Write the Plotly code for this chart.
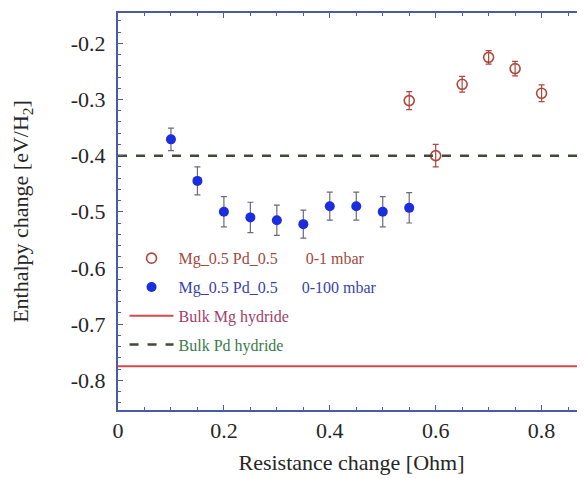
import plotly.graph_objects as go

# Data
x_low = [0.55, 0.60, 0.65, 0.70, 0.75, 0.80]
y_low = [-0.302, -0.400, -0.273, -0.225, -0.245, -0.289]
e_low = [0.016, 0.020, 0.014, 0.012, 0.013, 0.015]

x_high = [0.10, 0.15, 0.20, 0.25, 0.30, 0.35, 0.40, 0.45, 0.50, 0.55]
y_high = [-0.371, -0.445, -0.500, -0.510, -0.515, -0.522, -0.490, -0.490, -0.500, -0.493]
e_high = [0.020, 0.025, 0.027, 0.027, 0.027, 0.025, 0.025, 0.025, 0.027, 0.027]

bulk_mg = -0.775
bulk_pd = -0.400
x_span = [0.0, 0.882]

x_tickvals = [0, 0.2, 0.4, 0.6, 0.8]
x_ticktext = ["0", "0.2", "0.4", "0.6", "0.8"]
y_tickvals = [-0.8, -0.7, -0.6, -0.5, -0.4, -0.3, -0.2]
y_ticktext = ["-0.8", "-0.7", "-0.6", "-0.5", "-0.4", "-0.3", "-0.2"]

AX = "#4a5aa8"
FONT = "Liberation Serif"
NB = "&nbsp;"

fig = go.Figure()
fig.add_trace(go.Scatter(
    x=x_low, y=y_low, mode="markers",
    name="<span style='color:#a04a40'>Mg_0.5 Pd_0.5" + NB * 7 + "0-1 mbar</span>",
    legendgroup="a",
    marker=dict(symbol="circle-open", size=10, color="#b0473d", line=dict(width=1.6)),
    error_y=dict(type="data", array=e_low, color="#b0473d", thickness=1.2, width=3),
))
fig.add_trace(go.Scatter(
    x=x_high, y=y_high, mode="markers",
    name="<span style='color:#3a3fb0'>Mg_0.5 Pd_0.5" + NB * 6 + "0-100 mbar</span>",
    legendgroup="b",
    marker=dict(symbol="circle", size=10, color="#1a2ee0"),
    error_y=dict(type="data", array=e_high, color="#6a6a80", thickness=1.2, width=3),
))
fig.add_trace(go.Scatter(
    x=x_span, y=[bulk_mg, bulk_mg], mode="lines",
    name="<span style='color:#a0406a'>Bulk Mg hydride</span>",
    legendgroup="c",
    line=dict(color="#d84848", width=2),
))
fig.add_trace(go.Scatter(
    x=x_span, y=[bulk_pd, bulk_pd], mode="lines",
    name="<span style='color:#3a7a4a'>Bulk Pd hydride</span>",
    legendgroup="d",
    line=dict(color="#404a38", width=2.5, dash="dash"),
))

# page has an 8px body margin, so the figure is 8px smaller and shifted
fig.update_layout(
    width=577, height=470,
    margin=dict(l=110, r=0, t=5, b=68),
    paper_bgcolor="white", plot_bgcolor="white",
    font=dict(family=FONT, color="#333333"),
    showlegend=True,
    legend=dict(
        x=0.014, y=0.425, xanchor="left", yanchor="top",
        bgcolor="rgba(255,255,255,0)",
        font=dict(family=FONT, size=16),
        traceorder="grouped", tracegroupgap=5,
        itemwidth=44,
    ),
)
fig.update_xaxes(
    range=x_span, tickmode="array", tickvals=x_tickvals, ticktext=x_ticktext,
    automargin=False,
    showline=True, linecolor=AX, linewidth=2, mirror="ticks",
    ticks="inside", ticklen=5, tickcolor=AX,
    minor=dict(dtick=0.05, tick0=0, ticks="inside", ticklen=3, tickcolor=AX),
    showgrid=False, zeroline=False,
    tickfont=dict(family=FONT, size=22, color="#262626"),
    title=dict(text="Resistance change [Ohm]", font=dict(family=FONT, size=22, color="#262626"), standoff=12),
)
fig.update_yaxes(
    range=[-0.853, -0.146], tickmode="array", tickvals=y_tickvals, ticktext=y_ticktext,
    automargin=False,
    showline=True, linecolor=AX, linewidth=2, mirror=False,
    ticks="inside", ticklen=5, tickcolor=AX, ticklabelstandoff=6,
    minor=dict(dtick=0.02, tick0=-0.8, ticks="inside", ticklen=3, tickcolor=AX),
    showgrid=False, zeroline=False,
    tickfont=dict(family=FONT, size=22, color="#262626"),
    title=dict(text="Enthalpy change [eV/H<sub>2</sub>]", font=dict(family=FONT, size=22, color="#262626"), standoff=40),
)

fig.write_html("out.html")
